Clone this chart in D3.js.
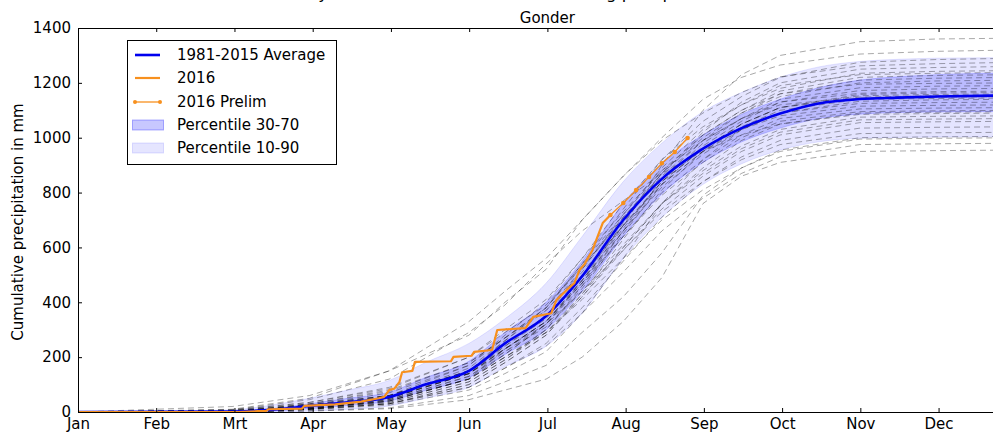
<!DOCTYPE html>
<html><head><meta charset="utf-8">
<script src="https://cdn.jsdelivr.net/npm/d3@7"></script>
<style>
body{margin:0;background:#fff}
svg{display:block}
text{font-family:"DejaVu Sans",sans-serif}
</style>
</head><body>
<svg id="c" width="993" height="432"></svg>
<script>
const monthLabels = ["Jan","Feb","Mrt","Apr","May","Jun","Jul","Aug","Sep","Oct","Nov","Dec"];
const yTicks = [0,200,400,600,800,1000,1200,1400];

// day-of-year positions for average / percentile series
const bandDays = [0,60,75,90,105,121,135,152,166,182,196,212,227,243,258,273,288,304,319,334,365];
const avg  = [0,2,8,22,35,55,100,150,250,350,495,700,850,960,1035,1088,1125,1141,1146,1150,1155];
const p10  = [0,0,0,3,10,22,50,90,165,240,360,560,710,830,905,955,985,998,1001,1003,1004];
const p30  = [0,0,3,12,24,40,78,125,210,300,440,640,795,910,985,1035,1070,1086,1092,1094,1096];
const p70  = [0,3,12,30,50,72,125,185,290,400,550,760,905,1010,1085,1140,1182,1210,1222,1230,1236];
const p90  = [0,8,25,50,80,115,180,250,340,470,640,840,980,1095,1165,1220,1258,1278,1286,1290,1292];

// individual years 1981-2015 (cumulative mm at yearDays)
const yearDays = [0,60,90,121,152,166,182,196,212,227,243,258,273,304,334,365];
const yearSeries = [
 [0,0,15,40,120,230,330,470,680,900,1100,1230,1300,1350,1360,1363],
 [0,20,60,150,280,400,520,700,860,1000,1140,1220,1265,1305,1315,1320],
 [0,0,20,60,150,260,380,540,740,920,1060,1150,1220,1275,1285,1290],
 [0,10,50,150,330,440,560,700,860,990,1090,1165,1222,1262,1270,1275],
 [0,0,10,45,130,210,320,480,690,870,1020,1130,1200,1250,1256,1260],
 [0,3,25,60,170,280,400,560,760,920,1040,1120,1180,1235,1242,1245],
 [0,0,18,50,140,240,350,520,720,890,1030,1120,1190,1230,1235,1238],
 [0,8,35,90,200,290,390,530,700,870,1010,1100,1170,1220,1227,1230],
 [0,0,12,40,120,200,300,460,660,850,990,1090,1160,1210,1217,1220],
 [0,2,22,55,160,260,370,520,710,870,1000,1090,1150,1200,1207,1210],
 [0,0,30,80,180,270,380,540,720,880,1010,1100,1160,1195,1198,1200],
 [0,5,20,50,140,230,330,480,670,840,980,1070,1140,1182,1188,1190],
 [0,0,15,35,110,190,300,450,650,830,970,1060,1130,1172,1178,1180],
 [0,0,25,70,170,270,380,530,710,860,990,1070,1130,1162,1168,1170],
 [0,4,28,60,150,240,340,490,680,840,960,1050,1110,1158,1163,1165],
 [0,0,10,30,100,180,280,430,630,810,950,1050,1110,1153,1158,1160],
 [0,6,35,85,200,300,410,560,730,880,990,1070,1120,1148,1153,1155],
 [0,0,20,55,150,250,350,500,680,840,960,1050,1110,1145,1148,1150],
 [0,0,12,40,120,210,320,470,660,830,950,1040,1100,1140,1143,1145],
 [0,3,18,50,140,230,330,480,660,820,940,1030,1090,1133,1138,1140],
 [0,0,8,25,80,140,220,360,560,760,920,1030,1090,1125,1128,1130],
 [0,5,30,75,180,270,370,510,680,830,950,1030,1080,1115,1118,1120],
 [0,0,15,45,130,220,320,460,640,800,920,1010,1070,1105,1108,1110],
 [0,2,20,50,140,230,330,470,640,790,910,1000,1060,1095,1098,1100],
 [0,0,10,30,100,180,280,420,600,760,890,990,1050,1090,1093,1095],
 [0,8,45,120,290,390,540,660,770,870,950,1010,1050,1085,1088,1090],
 [0,0,12,35,110,190,290,430,600,760,880,970,1030,1075,1078,1080],
 [0,0,20,55,140,220,310,440,610,760,870,960,1020,1065,1068,1070],
 [0,3,15,40,120,200,290,420,590,740,860,950,1010,1055,1058,1060],
 [0,0,10,30,90,160,250,380,550,710,840,930,990,1035,1038,1040],
 [0,4,25,60,150,230,320,440,590,730,840,920,975,1015,1018,1020],
 [0,0,5,15,60,110,170,290,420,580,790,890,955,1000,1003,1005],
 [0,2,18,45,120,200,290,410,560,700,810,890,950,995,998,1000],
 [0,0,10,30,90,160,240,360,510,660,780,870,930,975,978,980],
 [0,0,3,12,45,80,120,200,330,490,760,860,910,950,953,955]
];

// 2016 observed
const days2016 = [0,62,70,73,74,87,88,100,110,117,119,121,123,125,126,130,131,145,146,153,154,161,163,174,177,184,186,190,193,195,197,200,204,207];
const vals2016 = [0,0,3,3,10,12,22,28,38,50,55,80,85,110,145,150,183,185,201,205,219,226,299,306,347,360,408,445,470,518,540,590,689,718];
// 2016 preliminary
const prelimDays = [207,212,217,222,227,232,237];
const prelimVals = [718,762,809,857,907,948,999];

const titleText = "Cumulative daily rainfall totals at the station during precipitation season 2016";
const subTitle = "Gonder";
const yLabel = "Cumulative precipitation in mm";
const legendLabels = ["1981-2015 Average","2016","2016 Prelim","Percentile 30-70","Percentile 10-90"];

const svg = d3.select("#c");
const L=78, T=28, B=412, R=1016.8;
const x = d3.scaleLinear().domain([0,365]).range([L,R]);
const y = d3.scaleLinear().domain([0,1400]).range([B,T]);
const monthTicks = monthLabels.map((m,i)=>i*365/12);

svg.append("clipPath").attr("id","clip").append("rect")
  .attr("x",L).attr("y",T).attr("width",R-L).attr("height",B-T);
const g = svg.append("g").attr("clip-path","url(#clip)");

// bands
const band = (lo,hi)=>d3.area().x((d,i)=>x(bandDays[i])).y0((d,i)=>y(lo[i])).y1((d,i)=>y(hi[i])).curve(d3.curveMonotoneX)(bandDays);
g.append("path").attr("d",band(p10,p90)).attr("fill","#0000ff").attr("fill-opacity",0.1)
  .attr("stroke","#0000ff").attr("stroke-opacity",0.1).attr("stroke-width",1);
g.append("path").attr("d",band(p30,p70)).attr("fill","#0000ff").attr("fill-opacity",0.18)
  .attr("stroke","#0000ff").attr("stroke-opacity",0.18).attr("stroke-width",1);

// year lines
const yl = d3.line().x((d,i)=>x(yearDays[i])).y(d=>y(d));
g.selectAll("path.yr").data(yearSeries).join("path").attr("class","yr")
  .attr("d",yl).attr("fill","none").attr("stroke","#000").attr("stroke-opacity",0.38)
  .attr("stroke-width",0.9).attr("stroke-dasharray","6,4");

// average
g.append("path").datum(avg)
  .attr("d",d3.line().x((d,i)=>x(bandDays[i])).y(d=>y(d)).curve(d3.curveMonotoneX))
  .attr("fill","none").attr("stroke","#0000ee").attr("stroke-width",2.6);

// 2016
const orange = "#f7901e";
g.append("path").datum(vals2016)
  .attr("d",d3.line().x((d,i)=>x(days2016[i])).y(d=>y(d)))
  .attr("fill","none").attr("stroke",orange).attr("stroke-width",2.2).attr("stroke-linejoin","round");
g.append("path").datum(prelimVals)
  .attr("d",d3.line().x((d,i)=>x(prelimDays[i])).y(d=>y(d)))
  .attr("fill","none").attr("stroke",orange).attr("stroke-width",1.3);
g.selectAll("circle.pr").data(prelimVals).join("circle").attr("class","pr")
  .attr("cx",(d,i)=>x(prelimDays[i])).attr("cy",d=>y(d)).attr("r",2.3).attr("fill",orange);

// axes
const fs = 15;
const ax = svg.append("g").attr("transform",`translate(0,${B})`)
  .call(d3.axisBottom(x).tickValues(monthTicks).tickFormat((d,i)=>monthLabels[i]).tickSize(-4).tickSizeOuter(0).tickPadding(6));
const axT = svg.append("g").attr("transform",`translate(0,${T})`)
  .call(d3.axisTop(x).tickValues(monthTicks).tickFormat("").tickSize(-4).tickSizeOuter(0));
const axL = svg.append("g").attr("transform",`translate(${L},0)`)
  .call(d3.axisLeft(y).tickValues(yTicks).tickFormat(d3.format("d")).tickSize(-4).tickSizeOuter(0).tickPadding(7));
[ax,axT,axL].forEach(a=>{
  a.selectAll("text").attr("font-size",fs).attr("font-family","DejaVu Sans").attr("fill","#000");
  a.selectAll("line,path").attr("stroke","#000").attr("stroke-width",1);
});

// titles
svg.append("text").attr("x",(L+R)/2).attr("y",23).attr("text-anchor","middle")
  .attr("font-size",fs).text(subTitle);
const tt = svg.append("text").attr("x",0).attr("y",-1.5)
  .attr("font-family","Liberation Serif, Times New Roman, serif").attr("font-size",20).text(titleText);
{
  const node = tt.node();
  const gi = titleText.indexOf("during")+5;
  const yi = titleText.indexOf("daily")+4;
  const gx0 = node.getStartPositionOfChar(gi).x, yx0 = node.getStartPositionOfChar(yi).x;
  const s = (606-318)/(gx0-yx0);
  tt.attr("font-size",20*s);
  const gx = node.getStartPositionOfChar(gi).x;
  tt.attr("x",606-gx);
}
svg.append("text").attr("transform","translate(23,222) rotate(-90)").attr("text-anchor","middle")
  .attr("font-size",fs).text(yLabel);

// legend
const lg = svg.append("g");
lg.append("rect").attr("x",127.5).attr("y",40.5).attr("width",209).attr("height",124)
  .attr("fill","#fff").attr("stroke","#000").attr("stroke-width",1);
const rowY = [55,78,102,125,148];
lg.append("line").attr("x1",135).attr("x2",160).attr("y1",rowY[0]).attr("y2",rowY[0]).attr("stroke","#0000ee").attr("stroke-width",2.6);
lg.append("line").attr("x1",135).attr("x2",160).attr("y1",rowY[1]).attr("y2",rowY[1]).attr("stroke",orange).attr("stroke-width",2.2);
lg.append("line").attr("x1",135).attr("x2",160).attr("y1",rowY[2]).attr("y2",rowY[2]).attr("stroke",orange).attr("stroke-width",1.3);
[135,160].forEach(cx=>lg.append("circle").attr("cx",cx).attr("cy",rowY[2]).attr("r",2).attr("fill",orange));
lg.append("rect").attr("x",132.5).attr("y",rowY[3]-5).attr("width",31).attr("height",10)
  .attr("fill","#0000ff").attr("fill-opacity",0.22).attr("stroke","#0000ff").attr("stroke-opacity",0.3);
lg.append("rect").attr("x",132.5).attr("y",rowY[4]-5).attr("width",31).attr("height",10)
  .attr("fill","#0000ff").attr("fill-opacity",0.1).attr("stroke","#0000ff").attr("stroke-opacity",0.12);
legendLabels.forEach((t,i)=>lg.append("text").attr("x",177).attr("y",rowY[i]).attr("dy","0.35em")
  .attr("font-size",fs).text(t));
</script>
</body></html>
